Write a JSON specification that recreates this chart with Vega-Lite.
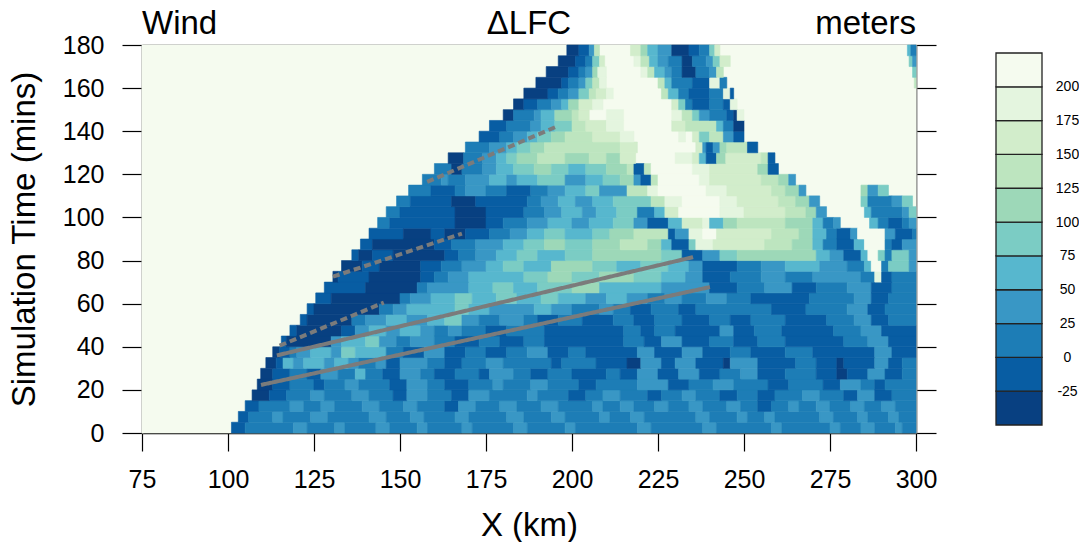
{"$schema":"https://vega.github.io/schema/vega-lite/v6.json","padding":{"left":8,"top":8,"right":0,"bottom":0},"autosize":{"type":"pad"},"background":"white","config":{"view":{"stroke":null},"font":"Liberation Sans"},"spacing":58,
"hconcat":[{"width":774,"height":388,"resolve":{"axis":{"x":"independent","y":"independent"}},"layer":[
{"data":{"values":[{"x":75,"x2":300,"y":0,"y2":180,"v":212},
{"x":101,"x2":105,"y":0,"y2":5,"v":-12},{"x":105,"x2":119,"y":0,"y2":5,"v":12},{"x":119,"x2":123,"y":0,"y2":5,"v":37},{"x":123,"x2":131,"y":0,"y2":5,"v":12},{"x":131,"x2":134,"y":0,"y2":5,"v":37},{"x":134,"x2":143,"y":0,"y2":5,"v":12},{"x":143,"x2":147,"y":0,"y2":5,"v":37},{"x":147,"x2":155,"y":0,"y2":5,"v":12},{"x":155,"x2":158,"y":0,"y2":5,"v":37},{"x":158,"x2":168,"y":0,"y2":5,"v":12},{"x":168,"x2":171,"y":0,"y2":5,"v":37},{"x":171,"x2":183,"y":0,"y2":5,"v":12},{"x":183,"x2":187,"y":0,"y2":5,"v":37},{"x":187,"x2":198,"y":0,"y2":5,"v":12},{"x":198,"x2":201,"y":0,"y2":5,"v":37},{"x":201,"x2":219,"y":0,"y2":5,"v":12},{"x":219,"x2":223,"y":0,"y2":5,"v":37},{"x":223,"x2":238,"y":0,"y2":5,"v":12},{"x":238,"x2":242,"y":0,"y2":5,"v":37},{"x":242,"x2":258,"y":0,"y2":5,"v":12},{"x":258,"x2":261,"y":0,"y2":5,"v":37},{"x":261,"x2":275,"y":0,"y2":5,"v":12},{"x":275,"x2":278,"y":0,"y2":5,"v":37},{"x":278,"x2":284,"y":0,"y2":5,"v":12},{"x":284,"x2":288,"y":0,"y2":5,"v":37},{"x":288,"x2":294,"y":0,"y2":5,"v":12},{"x":294,"x2":296,"y":0,"y2":5,"v":37},{"x":296,"x2":300,"y":0,"y2":5,"v":12},
{"x":103,"x2":106,"y":5,"y2":10,"v":-12},{"x":106,"x2":113,"y":5,"y2":10,"v":12},{"x":113,"x2":116,"y":5,"y2":10,"v":37},{"x":116,"x2":124,"y":5,"y2":10,"v":12},{"x":124,"x2":129,"y":5,"y2":10,"v":37},{"x":129,"x2":141,"y":5,"y2":10,"v":12},{"x":141,"x2":146,"y":5,"y2":10,"v":37},{"x":146,"x2":153,"y":5,"y2":10,"v":12},{"x":153,"x2":157,"y":5,"y2":10,"v":37},{"x":157,"x2":166,"y":5,"y2":10,"v":12},{"x":166,"x2":170,"y":5,"y2":10,"v":37},{"x":170,"x2":181,"y":5,"y2":10,"v":12},{"x":181,"x2":186,"y":5,"y2":10,"v":37},{"x":186,"x2":194,"y":5,"y2":10,"v":12},{"x":194,"x2":198,"y":5,"y2":10,"v":37},{"x":198,"x2":208,"y":5,"y2":10,"v":12},{"x":208,"x2":211,"y":5,"y2":10,"v":37},{"x":211,"x2":217,"y":5,"y2":10,"v":12},{"x":217,"x2":221,"y":5,"y2":10,"v":37},{"x":221,"x2":236,"y":5,"y2":10,"v":12},{"x":236,"x2":240,"y":5,"y2":10,"v":37},{"x":240,"x2":248,"y":5,"y2":10,"v":12},{"x":248,"x2":251,"y":5,"y2":10,"v":37},{"x":251,"x2":256,"y":5,"y2":10,"v":12},{"x":256,"x2":259,"y":5,"y2":10,"v":37},{"x":259,"x2":272,"y":5,"y2":10,"v":12},{"x":272,"x2":276,"y":5,"y2":10,"v":37},{"x":276,"x2":283,"y":5,"y2":10,"v":12},{"x":283,"x2":286,"y":5,"y2":10,"v":37},{"x":286,"x2":292,"y":5,"y2":10,"v":12},{"x":292,"x2":295,"y":5,"y2":10,"v":37},{"x":295,"x2":300,"y":5,"y2":10,"v":12},
{"x":105,"x2":109,"y":10,"y2":15,"v":-12},{"x":109,"x2":118,"y":10,"y2":15,"v":12},{"x":118,"x2":122,"y":10,"y2":15,"v":37},{"x":122,"x2":127,"y":10,"y2":15,"v":12},{"x":127,"x2":131,"y":10,"y2":15,"v":37},{"x":131,"x2":139,"y":10,"y2":15,"v":12},{"x":139,"x2":144,"y":10,"y2":15,"v":37},{"x":144,"x2":151,"y":10,"y2":15,"v":12},{"x":151,"x2":155,"y":10,"y2":15,"v":37},{"x":155,"x2":163,"y":10,"y2":15,"v":12},{"x":163,"x2":167,"y":10,"y2":15,"v":-12},{"x":167,"x2":172,"y":10,"y2":15,"v":37},{"x":172,"x2":179,"y":10,"y2":15,"v":12},{"x":179,"x2":184,"y":10,"y2":15,"v":37},{"x":184,"x2":191,"y":10,"y2":15,"v":12},{"x":191,"x2":196,"y":10,"y2":15,"v":37},{"x":196,"x2":206,"y":10,"y2":15,"v":12},{"x":206,"x2":209,"y":10,"y2":15,"v":37},{"x":209,"x2":214,"y":10,"y2":15,"v":12},{"x":214,"x2":218,"y":10,"y2":15,"v":37},{"x":218,"x2":224,"y":10,"y2":15,"v":12},{"x":224,"x2":228,"y":10,"y2":15,"v":37},{"x":228,"x2":234,"y":10,"y2":15,"v":12},{"x":234,"x2":238,"y":10,"y2":15,"v":37},{"x":238,"x2":245,"y":10,"y2":15,"v":12},{"x":245,"x2":249,"y":10,"y2":15,"v":37},{"x":249,"x2":254,"y":10,"y2":15,"v":12},{"x":254,"x2":258,"y":10,"y2":15,"v":-12},{"x":258,"x2":263,"y":10,"y2":15,"v":12},{"x":263,"x2":266,"y":10,"y2":15,"v":37},{"x":266,"x2":271,"y":10,"y2":15,"v":12},{"x":271,"x2":275,"y":10,"y2":15,"v":37},{"x":275,"x2":281,"y":10,"y2":15,"v":12},{"x":281,"x2":285,"y":10,"y2":15,"v":37},{"x":285,"x2":290,"y":10,"y2":15,"v":12},{"x":290,"x2":294,"y":10,"y2":15,"v":37},{"x":294,"x2":300,"y":10,"y2":15,"v":12},
{"x":107,"x2":112,"y":15,"y2":20,"v":-37},{"x":112,"x2":117,"y":15,"y2":20,"v":-12},{"x":117,"x2":124,"y":15,"y2":20,"v":12},{"x":124,"x2":128,"y":15,"y2":20,"v":37},{"x":128,"x2":136,"y":15,"y2":20,"v":12},{"x":136,"x2":141,"y":15,"y2":20,"v":37},{"x":141,"x2":148,"y":15,"y2":20,"v":12},{"x":148,"x2":152,"y":15,"y2":20,"v":-12},{"x":152,"x2":158,"y":15,"y2":20,"v":37},{"x":158,"x2":165,"y":15,"y2":20,"v":12},{"x":165,"x2":170,"y":15,"y2":20,"v":-12},{"x":170,"x2":176,"y":15,"y2":20,"v":37},{"x":176,"x2":187,"y":15,"y2":20,"v":12},{"x":187,"x2":190,"y":15,"y2":20,"v":37},{"x":190,"x2":199,"y":15,"y2":20,"v":12},{"x":199,"x2":204,"y":15,"y2":20,"v":-12},{"x":204,"x2":209,"y":15,"y2":20,"v":12},{"x":209,"x2":214,"y":15,"y2":20,"v":37},{"x":214,"x2":222,"y":15,"y2":20,"v":12},{"x":222,"x2":226,"y":15,"y2":20,"v":-12},{"x":226,"x2":232,"y":15,"y2":20,"v":12},{"x":232,"x2":236,"y":15,"y2":20,"v":37},{"x":236,"x2":243,"y":15,"y2":20,"v":12},{"x":243,"x2":248,"y":15,"y2":20,"v":-12},{"x":248,"x2":254,"y":15,"y2":20,"v":12},{"x":254,"x2":259,"y":15,"y2":20,"v":-12},{"x":259,"x2":267,"y":15,"y2":20,"v":12},{"x":267,"x2":272,"y":15,"y2":20,"v":37},{"x":272,"x2":279,"y":15,"y2":20,"v":12},{"x":279,"x2":283,"y":15,"y2":20,"v":-12},{"x":283,"x2":288,"y":15,"y2":20,"v":37},{"x":288,"x2":293,"y":15,"y2":20,"v":-12},{"x":293,"x2":300,"y":15,"y2":20,"v":12},
{"x":108.5,"x2":113,"y":20,"y2":25,"v":-37},{"x":113,"x2":118,"y":20,"y2":25,"v":-12},{"x":118,"x2":125,"y":20,"y2":25,"v":12},{"x":125,"x2":128,"y":20,"y2":25,"v":-12},{"x":128,"x2":134,"y":20,"y2":25,"v":12},{"x":134,"x2":138,"y":20,"y2":25,"v":37},{"x":138,"x2":147,"y":20,"y2":25,"v":12},{"x":147,"x2":152,"y":20,"y2":25,"v":-12},{"x":152,"x2":158,"y":20,"y2":25,"v":37},{"x":158,"x2":163,"y":20,"y2":25,"v":12},{"x":163,"x2":170,"y":20,"y2":25,"v":-12},{"x":170,"x2":177,"y":20,"y2":25,"v":12},{"x":177,"x2":180,"y":20,"y2":25,"v":37},{"x":180,"x2":188,"y":20,"y2":25,"v":12},{"x":188,"x2":193,"y":20,"y2":25,"v":37},{"x":193,"x2":202,"y":20,"y2":25,"v":12},{"x":202,"x2":207,"y":20,"y2":25,"v":-12},{"x":207,"x2":219,"y":20,"y2":25,"v":12},{"x":219,"x2":228,"y":20,"y2":25,"v":37},{"x":228,"x2":234,"y":20,"y2":25,"v":-12},{"x":234,"x2":241,"y":20,"y2":25,"v":12},{"x":241,"x2":247,"y":20,"y2":25,"v":37},{"x":247,"x2":257,"y":20,"y2":25,"v":12},{"x":257,"x2":263,"y":20,"y2":25,"v":-12},{"x":263,"x2":273,"y":20,"y2":25,"v":12},{"x":273,"x2":278,"y":20,"y2":25,"v":-12},{"x":278,"x2":284,"y":20,"y2":25,"v":37},{"x":284,"x2":288,"y":20,"y2":25,"v":12},{"x":288,"x2":291,"y":20,"y2":25,"v":-12},{"x":291,"x2":300,"y":20,"y2":25,"v":12},
{"x":109.5,"x2":113,"y":25,"y2":30,"v":-37},{"x":113,"x2":118,"y":25,"y2":30,"v":-12},{"x":118,"x2":123,"y":25,"y2":30,"v":12},{"x":123,"x2":127,"y":25,"y2":30,"v":-12},{"x":127,"x2":132,"y":25,"y2":30,"v":37},{"x":132,"x2":137,"y":25,"y2":30,"v":12},{"x":137,"x2":140,"y":25,"y2":30,"v":62},{"x":140,"x2":145,"y":25,"y2":30,"v":12},{"x":145,"x2":150,"y":25,"y2":30,"v":-12},{"x":150,"x2":156,"y":25,"y2":30,"v":37},{"x":156,"x2":160,"y":25,"y2":30,"v":12},{"x":160,"x2":166,"y":25,"y2":30,"v":-12},{"x":166,"x2":173,"y":25,"y2":30,"v":12},{"x":173,"x2":176,"y":25,"y2":30,"v":-12},{"x":176,"x2":183,"y":25,"y2":30,"v":37},{"x":183,"x2":188,"y":25,"y2":30,"v":12},{"x":188,"x2":193,"y":25,"y2":30,"v":-12},{"x":193,"x2":200,"y":25,"y2":30,"v":12},{"x":200,"x2":210,"y":25,"y2":30,"v":-12},{"x":210,"x2":214,"y":25,"y2":30,"v":12},{"x":214,"x2":219,"y":25,"y2":30,"v":-12},{"x":219,"x2":225,"y":25,"y2":30,"v":37},{"x":225,"x2":231,"y":25,"y2":30,"v":-12},{"x":231,"x2":237,"y":25,"y2":30,"v":37},{"x":237,"x2":243,"y":25,"y2":30,"v":-12},{"x":243,"x2":249,"y":25,"y2":30,"v":12},{"x":249,"x2":254,"y":25,"y2":30,"v":37},{"x":254,"x2":262,"y":25,"y2":30,"v":-12},{"x":262,"x2":271,"y":25,"y2":30,"v":12},{"x":271,"x2":277,"y":25,"y2":30,"v":-12},{"x":277,"x2":280,"y":25,"y2":30,"v":-37},{"x":280,"x2":286,"y":25,"y2":30,"v":-12},{"x":286,"x2":291,"y":25,"y2":30,"v":37},{"x":291,"x2":296,"y":25,"y2":30,"v":-12},{"x":296,"x2":300,"y":25,"y2":30,"v":12},
{"x":111,"x2":114,"y":30,"y2":35,"v":-37},{"x":114,"x2":116,"y":30,"y2":35,"v":-12},{"x":116,"x2":119,"y":30,"y2":35,"v":62},{"x":119,"x2":122,"y":30,"y2":35,"v":37},{"x":122,"x2":128,"y":30,"y2":35,"v":62},{"x":128,"x2":131,"y":30,"y2":35,"v":37},{"x":131,"x2":135,"y":30,"y2":35,"v":62},{"x":135,"x2":138,"y":30,"y2":35,"v":37},{"x":138,"x2":143,"y":30,"y2":35,"v":12},{"x":143,"x2":146,"y":30,"y2":35,"v":37},{"x":146,"x2":150,"y":30,"y2":35,"v":-12},{"x":150,"x2":158,"y":30,"y2":35,"v":37},{"x":158,"x2":163,"y":30,"y2":35,"v":12},{"x":163,"x2":168,"y":30,"y2":35,"v":-12},{"x":168,"x2":175,"y":30,"y2":35,"v":12},{"x":175,"x2":180,"y":30,"y2":35,"v":37},{"x":180,"x2":194,"y":30,"y2":35,"v":12},{"x":194,"x2":197,"y":30,"y2":35,"v":-12},{"x":197,"x2":207,"y":30,"y2":35,"v":12},{"x":207,"x2":216,"y":30,"y2":35,"v":-12},{"x":216,"x2":220,"y":30,"y2":35,"v":-37},{"x":220,"x2":226,"y":30,"y2":35,"v":37},{"x":226,"x2":230,"y":30,"y2":35,"v":-12},{"x":230,"x2":236,"y":30,"y2":35,"v":37},{"x":236,"x2":244,"y":30,"y2":35,"v":-12},{"x":244,"x2":246,"y":30,"y2":35,"v":-37},{"x":246,"x2":254,"y":30,"y2":35,"v":37},{"x":254,"x2":265,"y":30,"y2":35,"v":-12},{"x":265,"x2":271,"y":30,"y2":35,"v":12},{"x":271,"x2":277,"y":30,"y2":35,"v":-12},{"x":277,"x2":279,"y":30,"y2":35,"v":-37},{"x":279,"x2":288,"y":30,"y2":35,"v":-12},{"x":288,"x2":292,"y":30,"y2":35,"v":37},{"x":292,"x2":296,"y":30,"y2":35,"v":-12},{"x":296,"x2":300,"y":30,"y2":35,"v":12},
{"x":113,"x2":115,"y":35,"y2":40,"v":-37},{"x":115,"x2":118,"y":35,"y2":40,"v":-12},{"x":118,"x2":120,"y":35,"y2":40,"v":12},{"x":120,"x2":124,"y":35,"y2":40,"v":37},{"x":124,"x2":130,"y":35,"y2":40,"v":62},{"x":130,"x2":133,"y":35,"y2":40,"v":37},{"x":133,"x2":137,"y":35,"y2":40,"v":87},{"x":137,"x2":146,"y":35,"y2":40,"v":62},{"x":146,"x2":151,"y":35,"y2":40,"v":12},{"x":151,"x2":157,"y":35,"y2":40,"v":-12},{"x":157,"x2":163,"y":35,"y2":40,"v":37},{"x":163,"x2":169,"y":35,"y2":40,"v":-12},{"x":169,"x2":175,"y":35,"y2":40,"v":12},{"x":175,"x2":181,"y":35,"y2":40,"v":-12},{"x":181,"x2":187,"y":35,"y2":40,"v":12},{"x":187,"x2":193,"y":35,"y2":40,"v":37},{"x":193,"x2":199,"y":35,"y2":40,"v":-12},{"x":199,"x2":204,"y":35,"y2":40,"v":12},{"x":204,"x2":219,"y":35,"y2":40,"v":-12},{"x":219,"x2":224,"y":35,"y2":40,"v":37},{"x":224,"x2":232,"y":35,"y2":40,"v":-12},{"x":232,"x2":238,"y":35,"y2":40,"v":37},{"x":238,"x2":246,"y":35,"y2":40,"v":-12},{"x":246,"x2":252,"y":35,"y2":40,"v":12},{"x":252,"x2":262,"y":35,"y2":40,"v":-12},{"x":262,"x2":270,"y":35,"y2":40,"v":12},{"x":270,"x2":288,"y":35,"y2":40,"v":-12},{"x":288,"x2":293,"y":35,"y2":40,"v":37},{"x":293,"x2":300,"y":35,"y2":40,"v":-12},
{"x":115.5,"x2":117,"y":40,"y2":45,"v":-12},{"x":117,"x2":130,"y":40,"y2":45,"v":-37},{"x":130,"x2":133,"y":40,"y2":45,"v":37},{"x":133,"x2":140,"y":40,"y2":45,"v":62},{"x":140,"x2":144,"y":40,"y2":45,"v":87},{"x":144,"x2":149,"y":40,"y2":45,"v":37},{"x":149,"x2":153,"y":40,"y2":45,"v":12},{"x":153,"x2":160,"y":40,"y2":45,"v":37},{"x":160,"x2":166,"y":40,"y2":45,"v":12},{"x":166,"x2":173,"y":40,"y2":45,"v":-12},{"x":173,"x2":179,"y":40,"y2":45,"v":12},{"x":179,"x2":186,"y":40,"y2":45,"v":-12},{"x":186,"x2":192,"y":40,"y2":45,"v":12},{"x":192,"x2":215,"y":40,"y2":45,"v":-12},{"x":215,"x2":221,"y":40,"y2":45,"v":12},{"x":221,"x2":226,"y":40,"y2":45,"v":-12},{"x":226,"x2":232,"y":40,"y2":45,"v":37},{"x":232,"x2":240,"y":40,"y2":45,"v":-12},{"x":240,"x2":247,"y":40,"y2":45,"v":12},{"x":247,"x2":254,"y":40,"y2":45,"v":-12},{"x":254,"x2":262,"y":40,"y2":45,"v":12},{"x":262,"x2":279,"y":40,"y2":45,"v":-12},{"x":279,"x2":286,"y":40,"y2":45,"v":12},{"x":286,"x2":292,"y":40,"y2":45,"v":37},{"x":292,"x2":300,"y":40,"y2":45,"v":-12},
{"x":118,"x2":120,"y":45,"y2":50,"v":-12},{"x":120,"x2":133,"y":45,"y2":50,"v":-37},{"x":133,"x2":137,"y":45,"y2":50,"v":-12},{"x":137,"x2":141,"y":45,"y2":50,"v":37},{"x":141,"x2":146,"y":45,"y2":50,"v":62},{"x":146,"x2":150,"y":45,"y2":50,"v":37},{"x":150,"x2":156,"y":45,"y2":50,"v":62},{"x":156,"x2":160,"y":45,"y2":50,"v":37},{"x":160,"x2":164,"y":45,"y2":50,"v":12},{"x":164,"x2":168,"y":45,"y2":50,"v":37},{"x":168,"x2":175,"y":45,"y2":50,"v":12},{"x":175,"x2":181,"y":45,"y2":50,"v":-12},{"x":181,"x2":192,"y":45,"y2":50,"v":12},{"x":192,"x2":215,"y":45,"y2":50,"v":-12},{"x":215,"x2":220,"y":45,"y2":50,"v":12},{"x":220,"x2":224,"y":45,"y2":50,"v":-12},{"x":224,"x2":230,"y":45,"y2":50,"v":12},{"x":230,"x2":243,"y":45,"y2":50,"v":-12},{"x":243,"x2":247,"y":45,"y2":50,"v":37},{"x":247,"x2":253,"y":45,"y2":50,"v":-12},{"x":253,"x2":261,"y":45,"y2":50,"v":12},{"x":261,"x2":276,"y":45,"y2":50,"v":-12},{"x":276,"x2":284,"y":45,"y2":50,"v":12},{"x":284,"x2":290,"y":45,"y2":50,"v":37},{"x":290,"x2":300,"y":45,"y2":50,"v":-12},
{"x":121,"x2":123,"y":50,"y2":55,"v":-12},{"x":123,"x2":136,"y":50,"y2":55,"v":-37},{"x":136,"x2":140,"y":50,"y2":55,"v":12},{"x":140,"x2":146,"y":50,"y2":55,"v":37},{"x":146,"x2":152,"y":50,"y2":55,"v":62},{"x":152,"x2":158,"y":50,"y2":55,"v":37},{"x":158,"x2":163,"y":50,"y2":55,"v":62},{"x":163,"x2":168,"y":50,"y2":55,"v":87},{"x":168,"x2":173,"y":50,"y2":55,"v":37},{"x":173,"x2":179,"y":50,"y2":55,"v":12},{"x":179,"x2":186,"y":50,"y2":55,"v":37},{"x":186,"x2":190,"y":50,"y2":55,"v":12},{"x":190,"x2":196,"y":50,"y2":55,"v":-12},{"x":196,"x2":203,"y":50,"y2":55,"v":12},{"x":203,"x2":212,"y":50,"y2":55,"v":-12},{"x":212,"x2":218,"y":50,"y2":55,"v":12},{"x":218,"x2":224,"y":50,"y2":55,"v":-12},{"x":224,"x2":232,"y":50,"y2":55,"v":12},{"x":232,"x2":240,"y":50,"y2":55,"v":-12},{"x":240,"x2":246,"y":50,"y2":55,"v":12},{"x":246,"x2":252,"y":50,"y2":55,"v":-12},{"x":252,"x2":262,"y":50,"y2":55,"v":12},{"x":262,"x2":274,"y":50,"y2":55,"v":-12},{"x":274,"x2":282,"y":50,"y2":55,"v":12},{"x":282,"x2":287,"y":50,"y2":55,"v":37},{"x":287,"x2":292,"y":50,"y2":55,"v":-12},{"x":292,"x2":300,"y":50,"y2":55,"v":12},
{"x":123,"x2":125,"y":55,"y2":60,"v":-12},{"x":125,"x2":144,"y":55,"y2":60,"v":-37},{"x":144,"x2":148,"y":55,"y2":60,"v":12},{"x":148,"x2":152,"y":55,"y2":60,"v":37},{"x":152,"x2":166,"y":55,"y2":60,"v":62},{"x":166,"x2":170,"y":55,"y2":60,"v":87},{"x":170,"x2":176,"y":55,"y2":60,"v":62},{"x":176,"x2":189,"y":55,"y2":60,"v":37},{"x":189,"x2":194,"y":55,"y2":60,"v":62},{"x":194,"x2":200,"y":55,"y2":60,"v":37},{"x":200,"x2":208,"y":55,"y2":60,"v":12},{"x":208,"x2":212,"y":55,"y2":60,"v":37},{"x":212,"x2":217,"y":55,"y2":60,"v":12},{"x":217,"x2":223,"y":55,"y2":60,"v":-12},{"x":223,"x2":231,"y":55,"y2":60,"v":12},{"x":231,"x2":236,"y":55,"y2":60,"v":-12},{"x":236,"x2":258,"y":55,"y2":60,"v":12},{"x":258,"x2":268,"y":55,"y2":60,"v":-12},{"x":268,"x2":280,"y":55,"y2":60,"v":12},{"x":280,"x2":286,"y":55,"y2":60,"v":37},{"x":286,"x2":291,"y":55,"y2":60,"v":-12},{"x":291,"x2":300,"y":55,"y2":60,"v":12},
{"x":125.5,"x2":130,"y":60,"y2":65,"v":-12},{"x":130,"x2":150,"y":60,"y2":65,"v":-37},{"x":150,"x2":153,"y":60,"y2":65,"v":12},{"x":153,"x2":159,"y":60,"y2":65,"v":37},{"x":159,"x2":166,"y":60,"y2":65,"v":62},{"x":166,"x2":171,"y":60,"y2":65,"v":87},{"x":171,"x2":178,"y":60,"y2":65,"v":62},{"x":178,"x2":184,"y":60,"y2":65,"v":87},{"x":184,"x2":191,"y":60,"y2":65,"v":62},{"x":191,"x2":196,"y":60,"y2":65,"v":87},{"x":196,"x2":204,"y":60,"y2":65,"v":62},{"x":204,"x2":210,"y":60,"y2":65,"v":37},{"x":210,"x2":216,"y":60,"y2":65,"v":62},{"x":216,"x2":222,"y":60,"y2":65,"v":37},{"x":222,"x2":227,"y":60,"y2":65,"v":12},{"x":227,"x2":232,"y":60,"y2":65,"v":37},{"x":232,"x2":239,"y":60,"y2":65,"v":12},{"x":239,"x2":245,"y":60,"y2":65,"v":37},{"x":245,"x2":252,"y":60,"y2":65,"v":12},{"x":252,"x2":269,"y":60,"y2":65,"v":-12},{"x":269,"x2":282,"y":60,"y2":65,"v":12},{"x":282,"x2":287,"y":60,"y2":65,"v":37},{"x":287,"x2":292,"y":60,"y2":65,"v":-12},{"x":292,"x2":300,"y":60,"y2":65,"v":12},
{"x":128,"x2":140,"y":65,"y2":70,"v":-12},{"x":140,"x2":155,"y":65,"y2":70,"v":-37},{"x":155,"x2":158,"y":65,"y2":70,"v":12},{"x":158,"x2":170,"y":65,"y2":70,"v":37},{"x":170,"x2":177,"y":65,"y2":70,"v":62},{"x":177,"x2":183,"y":65,"y2":70,"v":87},{"x":183,"x2":190,"y":65,"y2":70,"v":62},{"x":190,"x2":200,"y":65,"y2":70,"v":87},{"x":200,"x2":208,"y":65,"y2":70,"v":112},{"x":208,"x2":226,"y":65,"y2":70,"v":62},{"x":226,"x2":240,"y":65,"y2":70,"v":37},{"x":240,"x2":248,"y":65,"y2":70,"v":-12},{"x":248,"x2":256,"y":65,"y2":70,"v":12},{"x":256,"x2":264,"y":65,"y2":70,"v":37},{"x":264,"x2":271,"y":65,"y2":70,"v":-12},{"x":271,"x2":280,"y":65,"y2":70,"v":12},{"x":280,"x2":287,"y":65,"y2":70,"v":37},{"x":287,"x2":293,"y":65,"y2":70,"v":-12},{"x":293,"x2":300,"y":65,"y2":70,"v":12},
{"x":130.5,"x2":132,"y":70,"y2":75,"v":-37},{"x":132,"x2":141,"y":70,"y2":75,"v":-12},{"x":141,"x2":156,"y":70,"y2":75,"v":-37},{"x":156,"x2":160,"y":70,"y2":75,"v":-12},{"x":160,"x2":164,"y":70,"y2":75,"v":12},{"x":164,"x2":170,"y":70,"y2":75,"v":37},{"x":170,"x2":186,"y":70,"y2":75,"v":62},{"x":186,"x2":193,"y":70,"y2":75,"v":87},{"x":193,"x2":200,"y":70,"y2":75,"v":112},{"x":200,"x2":208,"y":70,"y2":75,"v":87},{"x":208,"x2":218,"y":70,"y2":75,"v":112},{"x":218,"x2":226,"y":70,"y2":75,"v":87},{"x":226,"x2":233,"y":70,"y2":75,"v":62},{"x":233,"x2":238,"y":70,"y2":75,"v":37},{"x":238,"x2":246,"y":70,"y2":75,"v":-12},{"x":246,"x2":255,"y":70,"y2":75,"v":12},{"x":255,"x2":262,"y":70,"y2":75,"v":37},{"x":262,"x2":270,"y":70,"y2":75,"v":12},{"x":270,"x2":284,"y":70,"y2":75,"v":37},{"x":284,"x2":288,"y":70,"y2":75,"v":12},{"x":288,"x2":290,"y":70,"y2":75,"v":187},{"x":290,"x2":293,"y":70,"y2":75,"v":-12},{"x":293,"x2":300,"y":70,"y2":75,"v":12},
{"x":133,"x2":139,"y":75,"y2":80,"v":-37},{"x":139,"x2":144,"y":75,"y2":80,"v":-12},{"x":144,"x2":156,"y":75,"y2":80,"v":-37},{"x":156,"x2":162,"y":75,"y2":80,"v":-12},{"x":162,"x2":168,"y":75,"y2":80,"v":12},{"x":168,"x2":175,"y":75,"y2":80,"v":37},{"x":175,"x2":180,"y":75,"y2":80,"v":62},{"x":180,"x2":186,"y":75,"y2":80,"v":87},{"x":186,"x2":194,"y":75,"y2":80,"v":62},{"x":194,"x2":206,"y":75,"y2":80,"v":112},{"x":206,"x2":213,"y":75,"y2":80,"v":87},{"x":213,"x2":220,"y":75,"y2":80,"v":62},{"x":220,"x2":228,"y":75,"y2":80,"v":87},{"x":228,"x2":234,"y":75,"y2":80,"v":62},{"x":234,"x2":238,"y":75,"y2":80,"v":37},{"x":238,"x2":248,"y":75,"y2":80,"v":-12},{"x":248,"x2":255,"y":75,"y2":80,"v":12},{"x":255,"x2":262,"y":75,"y2":80,"v":37},{"x":262,"x2":272,"y":75,"y2":80,"v":62},{"x":272,"x2":280,"y":75,"y2":80,"v":37},{"x":280,"x2":285,"y":75,"y2":80,"v":12},{"x":285,"x2":287,"y":75,"y2":80,"v":62},{"x":287,"x2":290,"y":75,"y2":80,"v":212},{"x":290,"x2":292,"y":75,"y2":80,"v":12},{"x":292,"x2":298,"y":75,"y2":80,"v":87},{"x":298,"x2":300,"y":75,"y2":80,"v":37},
{"x":136,"x2":138,"y":80,"y2":85,"v":-12},{"x":138,"x2":142,"y":80,"y2":85,"v":-37},{"x":142,"x2":148,"y":80,"y2":85,"v":-12},{"x":148,"x2":163,"y":80,"y2":85,"v":-37},{"x":163,"x2":167,"y":80,"y2":85,"v":-12},{"x":167,"x2":172,"y":80,"y2":85,"v":12},{"x":172,"x2":178,"y":80,"y2":85,"v":37},{"x":178,"x2":184,"y":80,"y2":85,"v":62},{"x":184,"x2":190,"y":80,"y2":85,"v":87},{"x":190,"x2":198,"y":80,"y2":85,"v":62},{"x":198,"x2":206,"y":80,"y2":85,"v":87},{"x":206,"x2":226,"y":80,"y2":85,"v":112},{"x":226,"x2":232,"y":80,"y2":85,"v":87},{"x":232,"x2":238,"y":80,"y2":85,"v":-12},{"x":238,"x2":243,"y":80,"y2":85,"v":37},{"x":243,"x2":248,"y":80,"y2":85,"v":87},{"x":248,"x2":271,"y":80,"y2":85,"v":112},{"x":271,"x2":275,"y":80,"y2":85,"v":62},{"x":275,"x2":279,"y":80,"y2":85,"v":37},{"x":279,"x2":284,"y":80,"y2":85,"v":-12},{"x":284,"x2":286,"y":80,"y2":85,"v":62},{"x":286,"x2":289,"y":80,"y2":85,"v":212},{"x":289,"x2":291,"y":80,"y2":85,"v":87},{"x":291,"x2":293,"y":80,"y2":85,"v":12},{"x":293,"x2":298,"y":80,"y2":85,"v":87},{"x":298,"x2":300,"y":80,"y2":85,"v":37},
{"x":138.5,"x2":142,"y":85,"y2":90,"v":-12},{"x":142,"x2":160,"y":85,"y2":90,"v":-37},{"x":160,"x2":165,"y":85,"y2":90,"v":-12},{"x":165,"x2":172,"y":85,"y2":90,"v":12},{"x":172,"x2":180,"y":85,"y2":90,"v":37},{"x":180,"x2":186,"y":85,"y2":90,"v":62},{"x":186,"x2":192,"y":85,"y2":90,"v":87},{"x":192,"x2":198,"y":85,"y2":90,"v":112},{"x":198,"x2":206,"y":85,"y2":90,"v":87},{"x":206,"x2":214,"y":85,"y2":90,"v":112},{"x":214,"x2":222,"y":85,"y2":90,"v":137},{"x":222,"x2":226,"y":85,"y2":90,"v":112},{"x":226,"x2":229,"y":85,"y2":90,"v":62},{"x":229,"x2":234,"y":85,"y2":90,"v":-12},{"x":234,"x2":236,"y":85,"y2":90,"v":87},{"x":236,"x2":241,"y":85,"y2":90,"v":187},{"x":241,"x2":256,"y":85,"y2":90,"v":162},{"x":256,"x2":264,"y":85,"y2":90,"v":137},{"x":264,"x2":270,"y":85,"y2":90,"v":112},{"x":270,"x2":273,"y":85,"y2":90,"v":62},{"x":273,"x2":277,"y":85,"y2":90,"v":12},{"x":277,"x2":282,"y":85,"y2":90,"v":-12},{"x":282,"x2":285,"y":85,"y2":90,"v":62},{"x":285,"x2":291,"y":85,"y2":90,"v":212},{"x":291,"x2":293,"y":85,"y2":90,"v":12},{"x":293,"x2":296,"y":85,"y2":90,"v":-12},{"x":296,"x2":300,"y":85,"y2":90,"v":37},
{"x":141,"x2":151,"y":90,"y2":95,"v":-12},{"x":151,"x2":159,"y":90,"y2":95,"v":-37},{"x":159,"x2":163,"y":90,"y2":95,"v":-12},{"x":163,"x2":169,"y":90,"y2":95,"v":-37},{"x":169,"x2":176,"y":90,"y2":95,"v":-12},{"x":176,"x2":182,"y":90,"y2":95,"v":12},{"x":182,"x2":187,"y":90,"y2":95,"v":37},{"x":187,"x2":192,"y":90,"y2":95,"v":62},{"x":192,"x2":198,"y":90,"y2":95,"v":87},{"x":198,"x2":206,"y":90,"y2":95,"v":62},{"x":206,"x2":211,"y":90,"y2":95,"v":87},{"x":211,"x2":218,"y":90,"y2":95,"v":112},{"x":218,"x2":228,"y":90,"y2":95,"v":137},{"x":228,"x2":230,"y":90,"y2":95,"v":-12},{"x":230,"x2":234,"y":90,"y2":95,"v":37},{"x":234,"x2":238,"y":90,"y2":95,"v":187},{"x":238,"x2":242,"y":90,"y2":95,"v":212},{"x":242,"x2":258,"y":90,"y2":95,"v":162},{"x":258,"x2":266,"y":90,"y2":95,"v":137},{"x":266,"x2":270,"y":90,"y2":95,"v":112},{"x":270,"x2":274,"y":90,"y2":95,"v":62},{"x":274,"x2":277,"y":90,"y2":95,"v":12},{"x":277,"x2":281,"y":90,"y2":95,"v":-12},{"x":281,"x2":283,"y":90,"y2":95,"v":37},{"x":283,"x2":291,"y":90,"y2":95,"v":212},{"x":291,"x2":294,"y":90,"y2":95,"v":37},{"x":294,"x2":299,"y":90,"y2":95,"v":-12},{"x":299,"x2":300,"y":90,"y2":95,"v":12},
{"x":143.5,"x2":147,"y":95,"y2":100,"v":12},{"x":147,"x2":166,"y":95,"y2":100,"v":-12},{"x":166,"x2":175,"y":95,"y2":100,"v":-37},{"x":175,"x2":180,"y":95,"y2":100,"v":-12},{"x":180,"x2":187,"y":95,"y2":100,"v":12},{"x":187,"x2":193,"y":95,"y2":100,"v":37},{"x":193,"x2":200,"y":95,"y2":100,"v":62},{"x":200,"x2":205,"y":95,"y2":100,"v":37},{"x":205,"x2":212,"y":95,"y2":100,"v":62},{"x":212,"x2":218,"y":95,"y2":100,"v":87},{"x":218,"x2":222,"y":95,"y2":100,"v":37},{"x":222,"x2":228,"y":95,"y2":100,"v":-12},{"x":228,"x2":232,"y":95,"y2":100,"v":62},{"x":232,"x2":238,"y":95,"y2":100,"v":162},{"x":238,"x2":240,"y":95,"y2":100,"v":187},{"x":240,"x2":244,"y":95,"y2":100,"v":62},{"x":244,"x2":248,"y":95,"y2":100,"v":112},{"x":248,"x2":262,"y":95,"y2":100,"v":137},{"x":262,"x2":270,"y":95,"y2":100,"v":112},{"x":270,"x2":273,"y":95,"y2":100,"v":62},{"x":273,"x2":276,"y":95,"y2":100,"v":12},{"x":276,"x2":278,"y":95,"y2":100,"v":37},{"x":286.5,"x2":289,"y":95,"y2":100,"v":62},{"x":289,"x2":292,"y":95,"y2":100,"v":12},{"x":292,"x2":296,"y":95,"y2":100,"v":-12},{"x":296,"x2":298,"y":95,"y2":100,"v":12},{"x":298,"x2":300,"y":95,"y2":100,"v":37},
{"x":146,"x2":150,"y":100,"y2":105,"v":12},{"x":150,"x2":166,"y":100,"y2":105,"v":-12},{"x":166,"x2":175,"y":100,"y2":105,"v":-37},{"x":175,"x2":186,"y":100,"y2":105,"v":-12},{"x":186,"x2":192,"y":100,"y2":105,"v":12},{"x":192,"x2":197,"y":100,"y2":105,"v":37},{"x":197,"x2":203,"y":100,"y2":105,"v":62},{"x":203,"x2":207,"y":100,"y2":105,"v":37},{"x":207,"x2":213,"y":100,"y2":105,"v":62},{"x":213,"x2":219,"y":100,"y2":105,"v":87},{"x":219,"x2":224,"y":100,"y2":105,"v":12},{"x":224,"x2":227,"y":100,"y2":105,"v":62},{"x":227,"x2":231,"y":100,"y2":105,"v":162},{"x":231,"x2":243,"y":100,"y2":105,"v":212},{"x":243,"x2":250,"y":100,"y2":105,"v":187},{"x":250,"x2":262,"y":100,"y2":105,"v":162},{"x":262,"x2":268,"y":100,"y2":105,"v":137},{"x":268,"x2":271,"y":100,"y2":105,"v":112},{"x":271,"x2":274,"y":100,"y2":105,"v":37},{"x":285,"x2":287,"y":100,"y2":105,"v":62},{"x":287,"x2":296,"y":100,"y2":105,"v":12},{"x":296,"x2":298,"y":100,"y2":105,"v":37},{"x":298,"x2":300,"y":100,"y2":105,"v":87},
{"x":149,"x2":153,"y":105,"y2":110,"v":12},{"x":153,"x2":165,"y":105,"y2":110,"v":-12},{"x":165,"x2":172,"y":105,"y2":110,"v":-37},{"x":172,"x2":187,"y":105,"y2":110,"v":-12},{"x":187,"x2":191,"y":105,"y2":110,"v":12},{"x":191,"x2":196,"y":105,"y2":110,"v":37},{"x":196,"x2":201,"y":105,"y2":110,"v":62},{"x":201,"x2":206,"y":105,"y2":110,"v":37},{"x":206,"x2":212,"y":105,"y2":110,"v":62},{"x":212,"x2":223,"y":105,"y2":110,"v":87},{"x":223,"x2":227,"y":105,"y2":110,"v":137},{"x":227,"x2":232,"y":105,"y2":110,"v":187},{"x":232,"x2":243,"y":105,"y2":110,"v":212},{"x":243,"x2":248,"y":105,"y2":110,"v":187},{"x":248,"x2":260,"y":105,"y2":110,"v":162},{"x":260,"x2":265,"y":105,"y2":110,"v":137},{"x":265,"x2":269,"y":105,"y2":110,"v":112},{"x":269,"x2":272,"y":105,"y2":110,"v":37},{"x":284,"x2":286,"y":105,"y2":110,"v":87},{"x":286,"x2":293,"y":105,"y2":110,"v":12},{"x":293,"x2":296,"y":105,"y2":110,"v":37},{"x":296,"x2":299,"y":105,"y2":110,"v":87},
{"x":152.5,"x2":159,"y":110,"y2":115,"v":12},{"x":159,"x2":166,"y":110,"y2":115,"v":-12},{"x":166,"x2":169,"y":110,"y2":115,"v":12},{"x":169,"x2":175,"y":110,"y2":115,"v":37},{"x":175,"x2":181,"y":110,"y2":115,"v":12},{"x":181,"x2":188,"y":110,"y2":115,"v":-12},{"x":188,"x2":193,"y":110,"y2":115,"v":12},{"x":193,"x2":198,"y":110,"y2":115,"v":37},{"x":198,"x2":204,"y":110,"y2":115,"v":62},{"x":204,"x2":208,"y":110,"y2":115,"v":87},{"x":208,"x2":216,"y":110,"y2":115,"v":37},{"x":216,"x2":222,"y":110,"y2":115,"v":137},{"x":222,"x2":225,"y":110,"y2":115,"v":187},{"x":225,"x2":239,"y":110,"y2":115,"v":212},{"x":239,"x2":245,"y":110,"y2":115,"v":187},{"x":245,"x2":258,"y":110,"y2":115,"v":162},{"x":258,"x2":262,"y":110,"y2":115,"v":137},{"x":262,"x2":266,"y":110,"y2":115,"v":112},{"x":266,"x2":268,"y":110,"y2":115,"v":37},{"x":284,"x2":286,"y":110,"y2":115,"v":112},{"x":286,"x2":289,"y":110,"y2":115,"v":37},{"x":289,"x2":292,"y":110,"y2":115,"v":87},
{"x":156.5,"x2":162,"y":115,"y2":120,"v":12},{"x":162,"x2":164,"y":115,"y2":120,"v":37},{"x":164,"x2":169,"y":115,"y2":120,"v":12},{"x":169,"x2":176,"y":115,"y2":120,"v":37},{"x":176,"x2":181,"y":115,"y2":120,"v":62},{"x":181,"x2":184,"y":115,"y2":120,"v":37},{"x":184,"x2":190,"y":115,"y2":120,"v":62},{"x":190,"x2":198,"y":115,"y2":120,"v":87},{"x":198,"x2":204,"y":115,"y2":120,"v":37},{"x":204,"x2":209,"y":115,"y2":120,"v":62},{"x":209,"x2":214,"y":115,"y2":120,"v":87},{"x":214,"x2":218,"y":115,"y2":120,"v":112},{"x":218,"x2":220,"y":115,"y2":120,"v":37},{"x":220,"x2":223,"y":115,"y2":120,"v":-12},{"x":223,"x2":225,"y":115,"y2":120,"v":137},{"x":225,"x2":237,"y":115,"y2":120,"v":212},{"x":237,"x2":240,"y":115,"y2":120,"v":187},{"x":240,"x2":255,"y":115,"y2":120,"v":162},{"x":255,"x2":260,"y":115,"y2":120,"v":137},{"x":260,"x2":263,"y":115,"y2":120,"v":112},{"x":263,"x2":265,"y":115,"y2":120,"v":37},
{"x":160,"x2":165,"y":120,"y2":125,"v":12},{"x":165,"x2":168,"y":120,"y2":125,"v":-37},{"x":168,"x2":174,"y":120,"y2":125,"v":12},{"x":174,"x2":178,"y":120,"y2":125,"v":37},{"x":178,"x2":183,"y":120,"y2":125,"v":62},{"x":183,"x2":189,"y":120,"y2":125,"v":87},{"x":189,"x2":194,"y":120,"y2":125,"v":112},{"x":194,"x2":199,"y":120,"y2":125,"v":87},{"x":199,"x2":204,"y":120,"y2":125,"v":62},{"x":204,"x2":210,"y":120,"y2":125,"v":87},{"x":210,"x2":216,"y":120,"y2":125,"v":112},{"x":216,"x2":218,"y":120,"y2":125,"v":137},{"x":218,"x2":221,"y":120,"y2":125,"v":-12},{"x":221,"x2":223,"y":120,"y2":125,"v":137},{"x":223,"x2":235,"y":120,"y2":125,"v":212},{"x":235,"x2":240,"y":120,"y2":125,"v":187},{"x":240,"x2":254,"y":120,"y2":125,"v":162},{"x":254,"x2":257,"y":120,"y2":125,"v":112},{"x":257,"x2":260,"y":120,"y2":125,"v":-12},
{"x":164,"x2":168.5,"y":125,"y2":130,"v":-37},{"x":168.5,"x2":174,"y":125,"y2":130,"v":12},{"x":174,"x2":178,"y":125,"y2":130,"v":37},{"x":178,"x2":181,"y":125,"y2":130,"v":62},{"x":181,"x2":184,"y":125,"y2":130,"v":87},{"x":184,"x2":190,"y":125,"y2":130,"v":112},{"x":190,"x2":198,"y":125,"y2":130,"v":137},{"x":198,"x2":205,"y":125,"y2":130,"v":112},{"x":205,"x2":210,"y":125,"y2":130,"v":137},{"x":210,"x2":214,"y":125,"y2":130,"v":112},{"x":214,"x2":218.5,"y":125,"y2":130,"v":162},{"x":230,"x2":235,"y":125,"y2":130,"v":187},{"x":235,"x2":237,"y":125,"y2":130,"v":162},{"x":237,"x2":239,"y":125,"y2":130,"v":62},{"x":239,"x2":242,"y":125,"y2":130,"v":-12},{"x":242,"x2":244.7,"y":125,"y2":130,"v":112},{"x":244.7,"x2":255,"y":125,"y2":130,"v":162},{"x":255,"x2":257,"y":125,"y2":130,"v":137},{"x":257,"x2":259,"y":125,"y2":130,"v":-12},
{"x":169,"x2":176,"y":130,"y2":135,"v":12},{"x":176,"x2":181,"y":130,"y2":135,"v":37},{"x":181,"x2":184,"y":130,"y2":135,"v":62},{"x":184,"x2":188,"y":130,"y2":135,"v":87},{"x":188,"x2":192,"y":130,"y2":135,"v":112},{"x":192,"x2":214,"y":130,"y2":135,"v":137},{"x":214,"x2":219,"y":130,"y2":135,"v":162},{"x":236,"x2":238,"y":130,"y2":135,"v":162},{"x":238,"x2":239,"y":130,"y2":135,"v":37},{"x":239,"x2":241,"y":130,"y2":135,"v":-12},{"x":241,"x2":243,"y":130,"y2":135,"v":37},{"x":243,"x2":245,"y":130,"y2":135,"v":112},{"x":245,"x2":251,"y":130,"y2":135,"v":137},{"x":251,"x2":254,"y":130,"y2":135,"v":-12},
{"x":173,"x2":179,"y":135,"y2":140,"v":-12},{"x":179,"x2":183,"y":135,"y2":140,"v":12},{"x":183,"x2":187,"y":135,"y2":140,"v":37},{"x":187,"x2":190,"y":135,"y2":140,"v":62},{"x":190,"x2":194,"y":135,"y2":140,"v":87},{"x":194,"x2":198,"y":135,"y2":140,"v":112},{"x":198,"x2":206,"y":135,"y2":140,"v":137},{"x":206,"x2":214,"y":135,"y2":140,"v":162},{"x":214,"x2":218,"y":135,"y2":140,"v":187},{"x":231,"x2":233,"y":135,"y2":140,"v":187},{"x":235,"x2":237,"y":135,"y2":140,"v":162},{"x":237,"x2":240,"y":135,"y2":140,"v":87},{"x":240,"x2":244,"y":135,"y2":140,"v":137},{"x":244,"x2":247,"y":135,"y2":140,"v":37},{"x":247,"x2":250,"y":135,"y2":140,"v":-12},
{"x":176,"x2":181,"y":140,"y2":145,"v":-12},{"x":181,"x2":188,"y":140,"y2":145,"v":12},{"x":188,"x2":191,"y":140,"y2":145,"v":37},{"x":191,"x2":195,"y":140,"y2":145,"v":62},{"x":195,"x2":200,"y":140,"y2":145,"v":87},{"x":200,"x2":204,"y":140,"y2":145,"v":137},{"x":204,"x2":210,"y":140,"y2":145,"v":162},{"x":210,"x2":215,"y":140,"y2":145,"v":187},{"x":229,"x2":233,"y":140,"y2":145,"v":162},{"x":233,"x2":242,"y":140,"y2":145,"v":137},{"x":242,"x2":244,"y":140,"y2":145,"v":62},{"x":244,"x2":247,"y":140,"y2":145,"v":12},{"x":247,"x2":250,"y":140,"y2":145,"v":-37},
{"x":180,"x2":183,"y":145,"y2":150,"v":-37},{"x":183,"x2":189,"y":145,"y2":150,"v":12},{"x":189,"x2":191,"y":145,"y2":150,"v":37},{"x":191,"x2":195,"y":145,"y2":150,"v":62},{"x":195,"x2":200,"y":145,"y2":150,"v":112},{"x":200,"x2":202,"y":145,"y2":150,"v":137},{"x":202,"x2":205,"y":145,"y2":150,"v":162},{"x":210,"x2":215,"y":145,"y2":150,"v":187},{"x":229,"x2":232,"y":145,"y2":150,"v":187},{"x":232,"x2":235,"y":145,"y2":150,"v":137},{"x":235,"x2":237,"y":145,"y2":150,"v":87},{"x":237,"x2":240,"y":145,"y2":150,"v":37},{"x":240,"x2":245,"y":145,"y2":150,"v":12},{"x":245,"x2":247,"y":145,"y2":150,"v":-12},{"x":247,"x2":248,"y":145,"y2":150,"v":-37},{"x":248,"x2":250,"y":145,"y2":150,"v":187},
{"x":183,"x2":186,"y":150,"y2":155,"v":-37},{"x":186,"x2":190,"y":150,"y2":155,"v":-12},{"x":190,"x2":194,"y":150,"y2":155,"v":12},{"x":194,"x2":197,"y":150,"y2":155,"v":37},{"x":197,"x2":199,"y":150,"y2":155,"v":62},{"x":199,"x2":202,"y":150,"y2":155,"v":112},{"x":202,"x2":206,"y":150,"y2":155,"v":162},{"x":206,"x2":209,"y":150,"y2":155,"v":187},{"x":229,"x2":231,"y":150,"y2":155,"v":162},{"x":231,"x2":233,"y":150,"y2":155,"v":87},{"x":233,"x2":235,"y":150,"y2":155,"v":12},{"x":235,"x2":240,"y":150,"y2":155,"v":-12},{"x":240,"x2":244,"y":150,"y2":155,"v":12},{"x":244,"x2":246,"y":150,"y2":155,"v":-12},{"x":246,"x2":248,"y":150,"y2":155,"v":187},
{"x":186,"x2":193,"y":155,"y2":160,"v":-37},{"x":193,"x2":196,"y":155,"y2":160,"v":-12},{"x":196,"x2":199,"y":155,"y2":160,"v":12},{"x":199,"x2":202,"y":155,"y2":160,"v":37},{"x":202,"x2":205,"y":155,"y2":160,"v":87},{"x":205,"x2":207,"y":155,"y2":160,"v":137},{"x":207,"x2":210,"y":155,"y2":160,"v":162},{"x":210,"x2":212,"y":155,"y2":160,"v":187},{"x":226,"x2":228,"y":155,"y2":160,"v":137},{"x":228,"x2":231,"y":155,"y2":160,"v":62},{"x":231,"x2":234,"y":155,"y2":160,"v":12},{"x":234,"x2":240,"y":155,"y2":160,"v":-12},{"x":240,"x2":244,"y":155,"y2":160,"v":12},{"x":244,"x2":246,"y":155,"y2":160,"v":187},{"x":246,"x2":247,"y":155,"y2":160,"v":-12},
{"x":189.5,"x2":197,"y":160,"y2":165,"v":-37},{"x":197,"x2":199,"y":160,"y2":165,"v":-12},{"x":199,"x2":202,"y":160,"y2":165,"v":12},{"x":202,"x2":204,"y":160,"y2":165,"v":37},{"x":204,"x2":206,"y":160,"y2":165,"v":87},{"x":206,"x2":208,"y":160,"y2":165,"v":137},{"x":208,"x2":210,"y":160,"y2":165,"v":187},{"x":225,"x2":227,"y":160,"y2":165,"v":137},{"x":227,"x2":229,"y":160,"y2":165,"v":62},{"x":229,"x2":235,"y":160,"y2":165,"v":12},{"x":235,"x2":240,"y":160,"y2":165,"v":-12},{"x":240,"x2":243,"y":160,"y2":165,"v":187},{"x":243,"x2":245,"y":160,"y2":165,"v":12},{"x":299.5,"x2":300,"y":160,"y2":165,"v":137},
{"x":192.5,"x2":199,"y":165,"y2":170,"v":-37},{"x":199,"x2":202,"y":165,"y2":170,"v":-12},{"x":202,"x2":204,"y":165,"y2":170,"v":12},{"x":204,"x2":206,"y":165,"y2":170,"v":37},{"x":206,"x2":207.5,"y":165,"y2":170,"v":112},{"x":207.5,"x2":210,"y":165,"y2":170,"v":187},{"x":220,"x2":222,"y":165,"y2":170,"v":187},{"x":222,"x2":224,"y":165,"y2":170,"v":137},{"x":224,"x2":227,"y":165,"y2":170,"v":62},{"x":227,"x2":229,"y":165,"y2":170,"v":37},{"x":229,"x2":232,"y":165,"y2":170,"v":12},{"x":232,"x2":236,"y":165,"y2":170,"v":-37},{"x":236,"x2":240,"y":165,"y2":170,"v":12},{"x":240,"x2":242,"y":165,"y2":170,"v":37},{"x":242,"x2":244,"y":165,"y2":170,"v":137},{"x":299,"x2":300,"y":165,"y2":170,"v":87},
{"x":196,"x2":201,"y":170,"y2":175,"v":-37},{"x":201,"x2":204,"y":170,"y2":175,"v":-12},{"x":204,"x2":206,"y":170,"y2":175,"v":12},{"x":206,"x2":208,"y":170,"y2":175,"v":87},{"x":208,"x2":209.5,"y":170,"y2":175,"v":162},{"x":218,"x2":220,"y":170,"y2":175,"v":187},{"x":220,"x2":222.5,"y":170,"y2":175,"v":137},{"x":222.5,"x2":225,"y":170,"y2":175,"v":62},{"x":225,"x2":228,"y":170,"y2":175,"v":37},{"x":228,"x2":232,"y":170,"y2":175,"v":12},{"x":232,"x2":235,"y":170,"y2":175,"v":-37},{"x":235,"x2":239,"y":170,"y2":175,"v":12},{"x":239,"x2":241,"y":170,"y2":175,"v":37},{"x":241,"x2":243,"y":170,"y2":175,"v":87},{"x":243,"x2":246,"y":170,"y2":175,"v":162},{"x":298,"x2":299,"y":170,"y2":175,"v":87},{"x":299,"x2":300,"y":170,"y2":175,"v":37},
{"x":198.5,"x2":202,"y":175,"y2":180,"v":-37},{"x":202,"x2":205,"y":175,"y2":180,"v":-12},{"x":205,"x2":206.5,"y":175,"y2":180,"v":37},{"x":206.5,"x2":208,"y":175,"y2":180,"v":137},{"x":217,"x2":220,"y":175,"y2":180,"v":162},{"x":220,"x2":222,"y":175,"y2":180,"v":112},{"x":222,"x2":225,"y":175,"y2":180,"v":62},{"x":225,"x2":229,"y":175,"y2":180,"v":37},{"x":229,"x2":234,"y":175,"y2":180,"v":-37},{"x":234,"x2":237,"y":175,"y2":180,"v":-12},{"x":237,"x2":240,"y":175,"y2":180,"v":12},{"x":240,"x2":241.5,"y":175,"y2":180,"v":87},{"x":241.5,"x2":243,"y":175,"y2":180,"v":162},{"x":297.5,"x2":298.5,"y":175,"y2":180,"v":62},{"x":298.5,"x2":300,"y":175,"y2":180,"v":12}
]},"mark":{"type":"rect","strokeWidth":0.6},"encoding":{
"x":{"field":"x","type":"quantitative","scale":{"domain":[75,300],"nice":false,"zero":false},"axis":{"values":[75,100,125,150,175,200,225,250,275,300],"title":"X (km)","titleFontSize":33,"titleFontWeight":"normal","titlePadding":17,"labelFontSize":25,"labelPadding":16,"labelColor":"black","tickSize":18,"tickColor":"black","tickWidth":1.2,"domainColor":"black","domainWidth":1.5,"grid":false,"labelFlush":false,"labelOverlap":false}},
"x2":{"field":"x2"},
"y":{"field":"y","type":"quantitative","scale":{"domain":[0,180],"nice":false,"zero":false},"axis":{"values":[0,20,40,60,80,100,120,140,160,180],"title":"Simulation Time (mins)","titleFontSize":33,"titleFontWeight":"normal","titlePadding":21,"labelFontSize":25,"labelPadding":18,"labelColor":"black","tickSize":20,"tickColor":"black","tickWidth":1.2,"domainColor":"#808080","domainWidth":2,"grid":false,"labelFlush":false,"labelOverlap":false}},
"y2":{"field":"y2"},
"color":{"field":"v","type":"quantitative","scale":{"type":"threshold","domain":[-25,0,25,50,75,100,125,150,175,200],"range":["#084081","#085da3","#1d7db6","#3997c5","#57b7ce","#7bccc4","#9dd8b8","#bde5bf","#d2edcb","#e4f5df","#f5fbef"]},"legend":null},
"stroke":{"field":"v","type":"quantitative","scale":{"type":"threshold","domain":[-25,0,25,50,75,100,125,150,175,200],"range":["#084081","#085da3","#1d7db6","#3997c5","#57b7ce","#7bccc4","#9dd8b8","#bde5bf","#d2edcb","#e4f5df","#f5fbef"]},"legend":null}}},
{"data":{"values":[{"s":"a","k":"solid","x":114.2,"y":36},{"s":"a","k":"solid","x":235.2,"y":81.6},{"s":"b","k":"solid","x":109.6,"y":22.3},{"s":"b","k":"solid","x":240.1,"y":67.7},{"s":"c","k":"dash","x":115,"y":40.5},{"s":"c","k":"dash","x":145.3,"y":60.5},{"s":"d","k":"dash","x":130.5,"y":72.5},{"s":"d","k":"dash","x":168,"y":92.5},{"s":"e","k":"dash","x":157.9,"y":116.5},{"s":"e","k":"dash","x":195.3,"y":142}]},"mark":{"type":"line","strokeWidth":4,"color":"#7b7b7b"},"encoding":{
"x":{"field":"x","type":"quantitative","scale":{"domain":[75,300],"nice":false,"zero":false},"axis":{"orient":"top","labels":false,"ticks":false,"title":null,"grid":false,"domainColor":"black","domainWidth":1.5}},
"y":{"field":"y","type":"quantitative","scale":{"domain":[0,180],"nice":false,"zero":false},"axis":{"orient":"right","labels":false,"title":null,"values":[0,20,40,60,80,100,120,140,160,180],"tickSize":20,"tickColor":"black","tickWidth":1.2,"domainColor":"#808080","domainWidth":2,"grid":false}},
"detail":{"field":"s"},
"strokeDash":{"field":"k","type":"nominal","scale":{"domain":["solid","dash"],"range":[[1,0],[7,4]]},"legend":null}}},
{"data":{"values":[{"x":75,"y":180,"t":"Wind","a":"left"},{"x":187.5,"y":180,"t":"ΔLFC","a":"center"},{"x":300,"y":180,"t":"meters","a":"right"}]},"transform":[{"filter":"datum.a=='left'"}],"mark":{"type":"text","font":"Liberation Sans","fontSize":33,"align":"left","baseline":"bottom","dy":-4,"color":"black"},"encoding":{"x":{"field":"x","type":"quantitative","axis":null},"y":{"field":"y","type":"quantitative","axis":null},"text":{"field":"t"}}},
{"data":{"values":[{"x":75,"y":180,"t":"Wind","a":"left"},{"x":187.5,"y":180,"t":"ΔLFC","a":"center"},{"x":300,"y":180,"t":"meters","a":"right"}]},"transform":[{"filter":"datum.a=='center'"}],"mark":{"type":"text","font":"Liberation Sans","fontSize":33,"align":"center","baseline":"bottom","dy":-4,"color":"black"},"encoding":{"x":{"field":"x","type":"quantitative","axis":null},"y":{"field":"y","type":"quantitative","axis":null},"text":{"field":"t"}}},
{"data":{"values":[{"x":75,"y":180,"t":"Wind","a":"left"},{"x":187.5,"y":180,"t":"ΔLFC","a":"center"},{"x":300,"y":180,"t":"meters","a":"right"}]},"transform":[{"filter":"datum.a=='right'"}],"mark":{"type":"text","font":"Liberation Sans","fontSize":33,"align":"right","baseline":"bottom","dy":-4,"color":"black"},"encoding":{"x":{"field":"x","type":"quantitative","axis":null},"y":{"field":"y","type":"quantitative","axis":null},"text":{"field":"t"}}}
]},
{"width":46,"height":388,"data":{"values":[{"lo":-50,"hi":-25,"v":-37},{"lo":-25,"hi":0,"v":-12},{"lo":0,"hi":25,"v":12},{"lo":25,"hi":50,"v":37},{"lo":50,"hi":75,"v":62},{"lo":75,"hi":100,"v":87},{"lo":100,"hi":125,"v":112},{"lo":125,"hi":150,"v":137},{"lo":150,"hi":175,"v":162},{"lo":175,"hi":200,"v":187},{"lo":200,"hi":225,"v":212}]},"mark":{"type":"rect","stroke":"#222222","strokeWidth":1.3},"encoding":{
"y":{"field":"lo","type":"quantitative","scale":{"domain":[-55.9,230.9],"nice":false,"zero":false},"axis":{"orient":"right","values":[-25,0,25,50,75,100,125,150,175,200],"title":null,"domain":false,"ticks":false,"grid":false,"labelFontSize":14,"labelAlign":"center","labelPadding":25,"labelColor":"black","labelOverlap":false,"labelFlush":false,"labelExpr":"''+datum.value"}},
"y2":{"field":"hi"},
"color":{"field":"v","type":"quantitative","scale":{"type":"threshold","domain":[-25,0,25,50,75,100,125,150,175,200],"range":["#084081","#085da3","#1d7db6","#3997c5","#57b7ce","#7bccc4","#9dd8b8","#bde5bf","#d2edcb","#e4f5df","#f5fbef"]},"legend":null}}}
]}
